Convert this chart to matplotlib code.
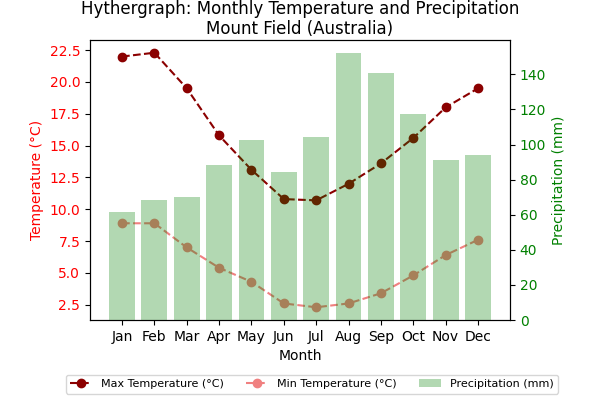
import matplotlib
matplotlib.use("Agg")
import matplotlib.pyplot as plt
import numpy as np

# Monthly climate data for Mount Field (Australia)
months = ['Jan', 'Feb', 'Mar', 'Apr', 'May', 'Jun', 'Jul', 'Aug', 'Sep', 'Oct', 'Nov', 'Dec']
max_temp = [22.0, 22.3, 19.5, 15.8, 13.1, 10.8, 10.7, 12.0, 13.6, 15.6, 18.0, 19.5]
min_temp = [8.9, 8.9, 7.0, 5.4, 4.3, 2.6, 2.3, 2.6, 3.4, 4.8, 6.4, 7.6]
precip = [61.5, 68.3, 70.0, 88.2, 102.4, 84.2, 104.2, 152.0, 140.6, 117.2, 91.0, 93.9]

x = np.arange(len(months))

fig, ax1 = plt.subplots(figsize=(6, 4), dpi=100)
fig.subplots_adjust(left=0.15, right=0.85, top=0.9, bottom=0.2)

# Temperature lines on the left axis
l1, = ax1.plot(x, max_temp, color='darkred', linestyle='--', marker='o', label='Max Temperature (°C)')
l2, = ax1.plot(x, min_temp, color='lightcoral', linestyle='--', marker='o', label='Min Temperature (°C)')
ax1.set_xlabel('Month')
ax1.set_ylabel('Temperature (°C)', color='red')
ax1.tick_params(axis='y', labelcolor='red')
ax1.set_xticks(x)
ax1.set_xticklabels(months)

# Precipitation bars on the right axis
ax2 = ax1.twinx()
bars = ax2.bar(x, precip, color='green', alpha=0.3, label='Precipitation (mm)')
ax2.set_ylabel('Precipitation (mm)', color='green')
ax2.tick_params(axis='y', labelcolor='green')

ax1.set_title('Hythergraph: Monthly Temperature and Precipitation\nMount Field (Australia)', pad=4)

fig.legend(handles=[l1, l2, bars], loc='lower center', bbox_to_anchor=(0.52, 0.002),
           ncol=3, fontsize=8)

fig.savefig('out.png')
